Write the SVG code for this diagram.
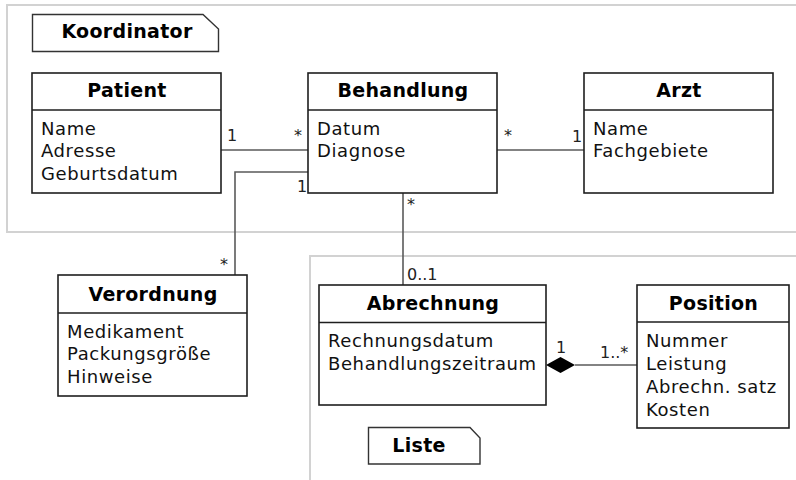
<svg xmlns="http://www.w3.org/2000/svg" width="796" height="480" viewBox="0 0 796 480">
  <style>
    .frame { fill: none; stroke: #d2d2d2; stroke-width: 2; }
    .box { fill: #ffffff; stroke: #1e1e1e; stroke-width: 1.6; }
    .sep { stroke: #1e1e1e; stroke-width: 1.6; }
    .note { fill: #ffffff; stroke: #333333; stroke-width: 1.4; stroke-linejoin: miter; }
    .edge { fill: none; stroke: #5a5a5a; stroke-width: 1.6; }
    .title { font-family: "DejaVu Sans", "Liberation Sans", sans-serif; font-size: 19px; font-weight: bold; letter-spacing: 0.3px; fill: #000000; text-anchor: middle; }
    .attr { font-family: "DejaVu Sans", "Liberation Sans", sans-serif; font-size: 18px; letter-spacing: 0.6px; fill: #111111; }
    .mult { font-family: "DejaVu Sans", "Liberation Sans", sans-serif; font-size: 16px; fill: #222222; }
  </style>

  <!-- package frames -->
  <rect class="frame" x="7" y="5" width="800" height="227"/>
  <rect class="frame" x="310" y="256" width="500" height="240"/>

  <!-- notes -->
  <g id="note-koordinator">
    <path class="note" d="M32.5,14.5 H203 L218.5,29 V51.5 H32.5 Z"/>
    <text class="title" x="127" y="37.5">Koordinator</text>
  </g>
  <g id="note-liste">
    <path class="note" d="M368.5,427.5 H470 L480,438 V464 H368.5 Z"/>
    <text class="title" x="419" y="452">Liste</text>
  </g>

  <!-- connectors -->
  <g id="connectors">
    <line class="edge" x1="221" y1="150" x2="308" y2="150"/>
    <polyline class="edge" points="308,172 235,172 235,275"/>
    <line class="edge" x1="497" y1="150" x2="584" y2="150"/>
    <line class="edge" x1="403" y1="193" x2="403" y2="285"/>
    <line class="edge" x1="575" y1="365" x2="637" y2="365" stroke="#111111"/>
    <polygon points="546,365 560.5,357 575,365 560.5,373" fill="#000000"/>

    <text class="mult" x="227" y="141">1</text>
    <text class="mult" x="294" y="141">*</text>
    <text class="mult" x="297" y="192">1</text>
    <text class="mult" x="220" y="270">*</text>
    <text class="mult" x="504" y="141">*</text>
    <text class="mult" x="572" y="142">1</text>
    <text class="mult" x="407" y="210">*</text>
    <text class="mult" x="407" y="280">0..1</text>
    <text class="mult" x="556" y="353">1</text>
    <text class="mult" x="600" y="358">1..*</text>
  </g>

  <!-- classes -->
  <g id="patient">
    <rect class="box" x="32" y="73" width="189" height="120"/>
    <line class="sep" x1="32" y1="110" x2="221" y2="110"/>
    <text class="title" x="127" y="96.5">Patient</text>
    <text class="attr" x="41" y="134.5">Name</text>
    <text class="attr" x="41" y="157">Adresse</text>
    <text class="attr" x="41" y="179.5">Geburtsdatum</text>
  </g>

  <g id="behandlung">
    <rect class="box" x="308" y="73" width="189" height="120"/>
    <line class="sep" x1="308" y1="110" x2="497" y2="110"/>
    <text class="title" x="403" y="96.5">Behandlung</text>
    <text class="attr" x="317" y="134.5">Datum</text>
    <text class="attr" x="317" y="157">Diagnose</text>
  </g>

  <g id="arzt">
    <rect class="box" x="584" y="73" width="189" height="120"/>
    <line class="sep" x1="584" y1="110" x2="773" y2="110"/>
    <text class="title" x="679" y="96.5">Arzt</text>
    <text class="attr" x="593" y="134.5">Name</text>
    <text class="attr" x="593" y="157">Fachgebiete</text>
  </g>

  <g id="verordnung">
    <rect class="box" x="58" y="275" width="189" height="121"/>
    <line class="sep" x1="58" y1="313" x2="247" y2="313"/>
    <text class="title" x="153" y="300.5">Verordnung</text>
    <text class="attr" x="67" y="337.5">Medikament</text>
    <text class="attr" x="67" y="360">Packungsgröße</text>
    <text class="attr" x="67" y="382.5">Hinweise</text>
  </g>

  <g id="abrechnung">
    <rect class="box" x="319" y="285" width="227" height="120"/>
    <line class="sep" x1="319" y1="322.5" x2="546" y2="322.5" stroke-width="2.2"/>
    <text class="title" x="433" y="309.5">Abrechnung</text>
    <text class="attr" x="328" y="347">Rechnungsdatum</text>
    <text class="attr" x="328" y="369.5">Behandlungszeitraum</text>
  </g>

  <g id="position">
    <rect class="box" x="637" y="285" width="152" height="143"/>
    <line class="sep" x1="637" y1="322" x2="789" y2="322"/>
    <text class="title" x="713.5" y="309.5">Position</text>
    <text class="attr" x="646" y="347">Nummer</text>
    <text class="attr" x="646" y="370">Leistung</text>
    <text class="attr" x="646" y="392.5">Abrechn. satz</text>
    <text class="attr" x="646" y="415.5">Kosten</text>
  </g>
</svg>
